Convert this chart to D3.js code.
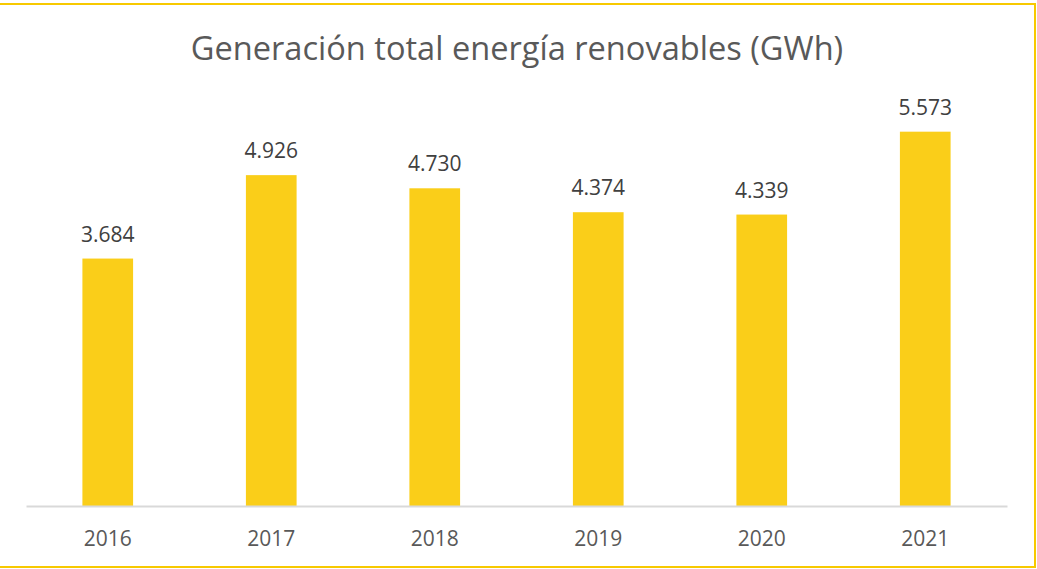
<!DOCTYPE html>
<html><head><meta charset="utf-8">
<script src="https://cdn.jsdelivr.net/npm/d3@7"></script>
<style>body{margin:0;background:#fff;} svg{display:block;}</style>
</head><body>
<svg id="c" width="1037" height="569"></svg>
<script>
const categories = ["2016","2017","2018","2019","2020","2021"];
const values = [3.684, 4.926, 4.730, 4.374, 4.339, 5.573];
const labels = ["3.684","4.926","4.730","4.374","4.339","5.573"];
const title = "Generación total energía renovables (GWh)";

const svg = d3.select("#c");
const font = "'Open Sans', sans-serif";
svg.append("rect").attr("x",-2).attr("y",4).attr("width",1037).attr("height",563)
  .attr("fill","#fff").attr("stroke","#F7C900").attr("stroke-width",2);

const x = d3.scaleBand().domain(categories).range([26,1007]).paddingInner(0.69).paddingOuter(0.345);
const y = d3.scaleLinear().domain([0,6]).range([506,103]);

svg.selectAll("rect.bar").data(values).enter().append("rect").attr("class","bar")
  .attr("x",(d,i)=>x(categories[i])).attr("width",x.bandwidth())
  .attr("y",d=>y(d)).attr("height",d=>y(0)-y(d)).attr("fill","#FACE19");

const ax = svg.append("g").attr("transform","translate(0,506)").call(d3.axisBottom(x).tickSize(0).tickPadding(0));
ax.select(".domain").attr("stroke","#D9D9D9").attr("stroke-width",2);
ax.selectAll("text").attr("dy",null).attr("y",40).attr("font-family",font).attr("font-size",21).attr("fill","#595959");

svg.selectAll("text.lbl").data(values).enter().append("text").attr("class","lbl")
  .attr("x",(d,i)=>x(categories[i])+x.bandwidth()/2).attr("y",d=>y(d)-17)
  .attr("text-anchor","middle").attr("font-family",font).attr("font-size",21).attr("fill","#404040")
  .text((d,i)=>labels[i]);

svg.append("text").attr("x",517).attr("y",60).attr("text-anchor","middle")
  .attr("font-family",font).attr("font-size",32.6).attr("fill","#595959").text(title);
</script>
</body></html>
